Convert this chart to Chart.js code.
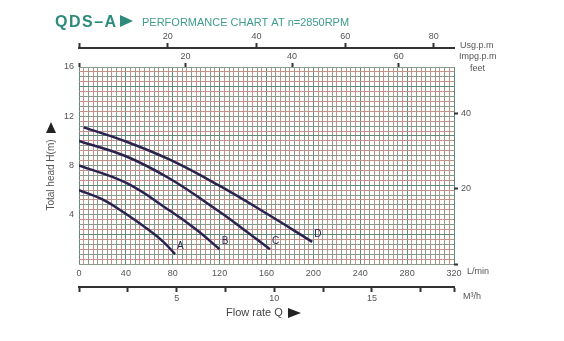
<!DOCTYPE html>
<html>
<head>
<meta charset="utf-8">
<script src="https://cdn.jsdelivr.net/npm/chart.js@4"></script>
<style>
  html, body { margin: 0; padding: 0; background: #ffffff; }
  #wrap { width: 564px; height: 341px; }
</style>
</head>
<body>
<div id="wrap"><canvas id="pump-chart" width="564" height="341"></canvas></div>
<script>
// Кривые напор-расход (Q в л/мин, H в м)
const curveNames = ['A', 'B', 'C', 'D'];
const curveA = [[0, 6.0], [20, 5.25], [38, 4.2], [59, 2.8], [72, 1.8], [82, 0.8]];
const curveB = [[0, 8.0], [40, 6.6], [78, 4.3], [100, 2.8], [120, 1.2]];
const curveC = [[0, 10.0], [40, 8.75], [78, 6.9], [119, 4.3], [140, 2.85], [163, 1.2]];
const curveD = [[4, 11.1], [40, 9.95], [78, 8.45], [119, 6.4], [160, 4.1], [199, 1.8]];
const curves = [curveA, curveB, curveC, curveD];

// Диапазоны осей и пересчёт единиц
const flowMax = 320;      // л/мин
const headMax = 16;       // м
const lpmPerUsg = 3.785;
const lpmPerImp = 4.546;
const feetPerM = 3.2808;
const m3hPerLpm = 0.06;

const gridMajor = '#5f8a78';
const gridGreen = '#8a9a8a';
const gridPink = '#c0928a';
const curveColor = '#2a2350';
const teal = '#2d8b7c';
const textGrey = '#555555';

Chart.defaults.font.family = '"Liberation Sans", Arial, sans-serif';
Chart.defaults.font.size = 9;
Chart.defaults.color = textGrey;

const datasets = curves.map(function(pts, i) {
    return {
        label: curveNames[i],
        data: pts.map(function(p) { return { x: p[0], y: p[1] }; }),
        xAxisID: 'x',
        yAxisID: 'y',
        borderColor: curveColor,
        borderWidth: 2.5,
        pointRadius: 0,
        tension: 0.4,
        fill: false
    };
});

// сетка: каждая десятая линия темнее, остальные чередуются
function gridColor(offset) {
    return function(ctx) {
        if (ctx.index % 10 === offset) return gridMajor;
        return ctx.index % 2 === 0 ? gridGreen : gridPink;
    };
}

function fixHeight(h) { return function(s) { s.height = h; }; }
function fixWidth(w) { return function(s) { s.width = w; }; }

// Подписи, заголовок и буквы у концов кривых
const decorPlugin = {
    id: 'decor',
    afterDraw: function(chart) {
        const ctx = chart.ctx;
        const xs = chart.scales.x;
        const ys = chart.scales.y;
        ctx.save();

        // заголовок
        ctx.textBaseline = 'alphabetic';
        ctx.fillStyle = teal;
        ctx.font = 'bold 16px "Liberation Sans", Arial, sans-serif';
        ctx.letterSpacing = '1.5px';
        ctx.fillText('QDS\u2013A', 55, 27);
        ctx.letterSpacing = '0px';
        ctx.beginPath();
        ctx.moveTo(120, 15);
        ctx.lineTo(133, 21);
        ctx.lineTo(120, 27);
        ctx.closePath();
        ctx.fill();
        ctx.fillStyle = '#3f9c8d';
        ctx.font = '11px "Liberation Sans", Arial, sans-serif';
        ctx.fillText('PERFORMANCE CHART AT n=2850RPM', 142, 26);

        // единицы справа
        ctx.fillStyle = textGrey;
        ctx.font = '9px "Liberation Sans", Arial, sans-serif';
        ctx.textBaseline = 'middle';
        ctx.textAlign = 'left';
        ctx.fillText('Usg.p.m', 460, 46);
        ctx.fillText('Impg.p.m', 459, 57);
        ctx.fillText('feet', 470, 69);
        ctx.fillText('L/min', 467, 272);
        ctx.fillText('M\u00b3/h', 463, 297);

        // подпись оси расхода
        ctx.font = '11px "Liberation Sans", Arial, sans-serif';
        ctx.fillStyle = '#444444';
        ctx.fillText('Flow rate Q', 226, 313);
        ctx.fillStyle = '#222222';
        ctx.beginPath();
        ctx.moveTo(288, 308);
        ctx.lineTo(301, 313);
        ctx.lineTo(288, 318);
        ctx.closePath();
        ctx.fill();

        // подпись оси напора
        ctx.save();
        ctx.translate(51, 175);
        ctx.rotate(-Math.PI / 2);
        ctx.textAlign = 'center';
        ctx.font = '10px "Liberation Sans", Arial, sans-serif';
        ctx.fillStyle = textGrey;
        ctx.fillText('Total head H(m)', 0, 0);
        ctx.restore();
        ctx.fillStyle = '#222222';
        ctx.beginPath();
        ctx.moveTo(51, 122);
        ctx.lineTo(56, 133);
        ctx.lineTo(46, 133);
        ctx.closePath();
        ctx.fill();

        // буквы у концов кривых
        ctx.fillStyle = curveColor;
        ctx.font = '10px "Liberation Sans", Arial, sans-serif';
        ctx.textAlign = 'left';
        curves.forEach(function(pts, i) {
            const last = pts[pts.length - 1];
            const px = xs.getPixelForValue(last[0]);
            const py = ys.getPixelForValue(last[1]);
            ctx.fillText(curveNames[i], px + 2, py - 8);
        });
        ctx.restore();
    }
};

new Chart(document.getElementById('pump-chart').getContext('2d'), {
    type: 'line',
    data: { datasets: datasets },
    plugins: [decorPlugin],
    options: {
        responsive: false,
        animation: false,
        layout: { padding: { left: 55, right: 84, top: 28, bottom: 36 } },
        plugins: { legend: { display: false }, tooltip: { enabled: false } },
        scales: {
            x: {
                type: 'linear', position: 'bottom', weight: 0,
                min: 0, max: flowMax,
                grid: { color: gridColor(0), lineWidth: 1, drawTicks: false },
                border: { display: false },
                ticks: {
                    stepSize: 4, autoSkip: false, maxRotation: 0, padding: 4,
                    callback: function(v) { return v % 40 === 0 ? v : ''; }
                },
                afterFit: fixHeight(23)
            },
            m3h: {
                type: 'linear', position: 'bottom', weight: 1,
                min: 0, max: flowMax * m3hPerLpm, bounds: 'data',
                grid: { drawOnChartArea: false, drawTicks: true, tickLength: 5, tickWidth: 2, tickColor: '#333333' },
                border: { display: true, color: '#333333', width: 2 },
                ticks: {
                    stepSize: 2.5, includeBounds: false, autoSkip: false, maxRotation: 0, padding: 1,
                    callback: function(v) { return (v > 0 && v % 5 === 0) ? v : ''; }
                },
                afterFit: fixHeight(18)
            },
            impg: {
                type: 'linear', position: 'top', weight: 0,
                min: 0, max: flowMax / lpmPerImp, bounds: 'data',
                grid: { drawOnChartArea: false, drawTicks: true, tickLength: 4, tickWidth: 2, tickColor: '#333333' },
                border: { display: false },
                ticks: {
                    stepSize: 20, includeBounds: false, autoSkip: false, maxRotation: 0, padding: 1,
                    callback: function(v) { return v === 0 ? '' : v; }
                },
                afterFit: fixHeight(19)
            },
            usg: {
                type: 'linear', position: 'top', weight: 1,
                min: 0, max: flowMax / lpmPerUsg, bounds: 'data',
                grid: { drawOnChartArea: false, drawTicks: true, tickLength: 5, tickWidth: 2, tickColor: '#333333' },
                border: { display: true, color: '#333333', width: 2 },
                ticks: {
                    stepSize: 20, includeBounds: false, autoSkip: false, maxRotation: 0, padding: 1,
                    callback: function(v) { return v === 0 ? '' : v; }
                },
                afterFit: fixHeight(20)
            },
            y: {
                type: 'linear', position: 'left',
                min: 0, max: headMax,
                grid: { color: gridColor(6), lineWidth: 1, drawTicks: false },
                border: { display: false },
                ticks: {
                    stepSize: 0.4, autoSkip: false, padding: 5,
                    callback: function(v) { return (v > 0 && Math.round(v * 10) % 40 === 0) ? v : ''; }
                },
                afterFit: fixWidth(24)
            },
            feet: {
                type: 'linear', position: 'right',
                min: 0, max: headMax * feetPerM, bounds: 'data',
                grid: { drawOnChartArea: false, drawTicks: true, tickLength: 4, tickWidth: 2, tickColor: '#333333' },
                border: { display: false },
                ticks: {
                    stepSize: 20, includeBounds: false, autoSkip: false, padding: 3,
                    callback: function(v) { return v === 0 ? '' : v; }
                },
                afterFit: fixWidth(26)
            }
        }
    }
});
</script>
</body>
</html>
